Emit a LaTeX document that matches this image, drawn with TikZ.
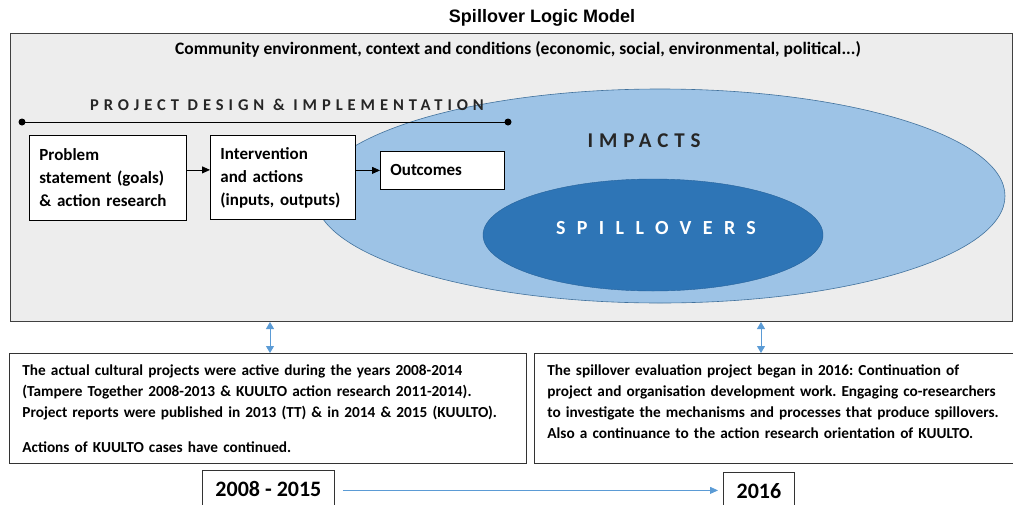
\documentclass[tikz,border=0pt]{standalone}
\usepackage{fontspec}
\setmainfont{Carlito}
\newfontfamily\titlefont{Liberation Sans}
\newfontfamily\spacedfont[LetterSpace=30]{Carlito}
\newfontfamily\impactfont[LetterSpace=28]{Carlito}
\newfontfamily\widefont[LetterSpace=57]{Carlito}
\usetikzlibrary{arrows.meta,positioning,calc,shapes.geometric}
\definecolor{slgrey}{HTML}{EDEDED}
\definecolor{sllight}{HTML}{9DC3E6}
\definecolor{sldark}{HTML}{2E75B6}
\definecolor{slrim}{HTML}{41719C}
\definecolor{slblue}{HTML}{5B9BD5}
\definecolor{sltext}{HTML}{262626}
\frenchspacing

\begin{document}
\begin{tikzpicture}[x=1pt,y=-1pt,
    slbox/.style={draw=black,fill=white,line width=0.8pt,anchor=north west,
        align=left,font=\fontsize{17}{23}\selectfont\bfseries,inner xsep=10pt,inner ysep=0pt},
    slnote/.style={draw=black!80,fill=white,line width=0.8pt,anchor=north west,
        align=left,font=\fontsize{15.3}{21}\selectfont\bfseries,inner xsep=13pt,inner ysep=0pt},
    slyear/.style={draw=black!80,fill=white,line width=0.8pt,anchor=north west,
        font=\fontsize{22}{24}\selectfont\bfseries,inner sep=0pt},
    slarrow/.style={-{Triangle[length=8pt,width=7pt]},draw=black,line width=0.8pt},
    slbiarrow/.style={{Triangle[length=7pt,width=8pt]}-{Triangle[length=7pt,width=8pt]},
        draw=slblue,line width=1pt},
    sltime/.style={-{Triangle[length=8pt,width=7pt]},draw=slblue,line width=0.8pt}
]
\useasboundingbox (0,0) rectangle (1013,504);
\node[font=\fontsize{18}{20}\titlefont\bfseries] (title) at (542,18) {Spillover Logic Model};
\node[draw=black!75,fill=slgrey,line width=1pt,anchor=north west,inner sep=0pt,
    minimum width=1002,minimum height=288] (env) at (10,33) {};
\node[font=\fontsize{17.5}{19}\selectfont\bfseries] (context) at (518,49)
    {Community environment, context and conditions (economic, social, environmental, political...)};
% ellipses
\node[ellipse,draw=slrim,fill=sllight,line width=0.6pt,inner sep=0pt,
    minimum width=690,minimum height=214] (impacts) at (660,196) {};
\node[ellipse,draw=sldark!85!black,fill=sldark,line width=0.4pt,inner sep=0pt,
    minimum width=340,minimum height=112] (spill) at (653,235) {};
\node[font=\fontsize{21}{23}\impactfont\bfseries,text=sltext] (impactslabel) at (644,141) {IMPACTS};
\node[font=\fontsize{20}{22}\widefont\bfseries,text=white] (spilllabel) at (656,228) {SPILLOVERS};
% project line
\coordinate (pdl) at (22,122);
\coordinate (pdr) at (508,122);
\node[font=\fontsize{16.5}{18}\spacedfont\bfseries,text=sltext] (pdlabel) at (287,105)
    {PROJECT DESIGN \& IMPLEMENTATION};
\draw[line width=0.9pt] (pdl)--(pdr);
\fill (pdl) circle (3.5pt);
\fill (pdr) circle (3.5pt);
% boxes
\node[slbox,text width=137,minimum height=85] (problem) at (29,135)
    {Problem\\statement (goals)\\\& action research};
\node[slbox,text width=125,minimum height=84] (intervention) at (210,135)
    {Intervention\\and actions\\(inputs, outputs)};
\node[slbox,text width=104,minimum height=38] (outcomes) at (380,151) {Outcomes};
\draw[slarrow] ([yshift=8pt]problem.east)--([yshift=8pt]problem.east -| intervention.west);
\draw[slarrow] (intervention.east |- outcomes.west)--(outcomes.west);
% notes
\node[slnote,text width=491,minimum height=110] (pastnote) at (9,353)
    {The actual cultural projects were active during the years 2008-2014\\
     (Tampere Together 2008-2013 \& KUULTO action research 2011-2014).\\
     Project reports were published in 2013 (TT) \& in 2014 \& 2015 (KUULTO).\\[14pt]
     Actions of KUULTO cases have continued.};
\node[slnote,text width=470,minimum height=110] (newnote) at (534,353)
    {The spillover evaluation project began in 2016: Continuation of\\
     project and organisation development work. Engaging co-researchers\\
     to investigate the mechanisms and processes that produce spillovers.\\
     Also a continuance to the action research orientation of KUULTO.\\[-7pt]\mbox{}};
\coordinate (leftlink) at (270,0);
\coordinate (rightlink) at (761,0);
\draw[slbiarrow] (env.south -| leftlink)--(pastnote.north -| leftlink);
\draw[slbiarrow] (env.south -| rightlink)--(newnote.north -| rightlink);
% years
\node[slyear,minimum width=132,minimum height=38] (pastyears) at (202,470) {2008 - 2015};
\node[slyear,minimum width=71,minimum height=38] (newyear) at (723,472) {2016};
\draw[sltime,shorten <=8pt,shorten >=5pt] ([yshift=-1pt]pastyears.east)--([yshift=-1pt]pastyears.east -| newyear.west);
\end{tikzpicture}
\end{document}
